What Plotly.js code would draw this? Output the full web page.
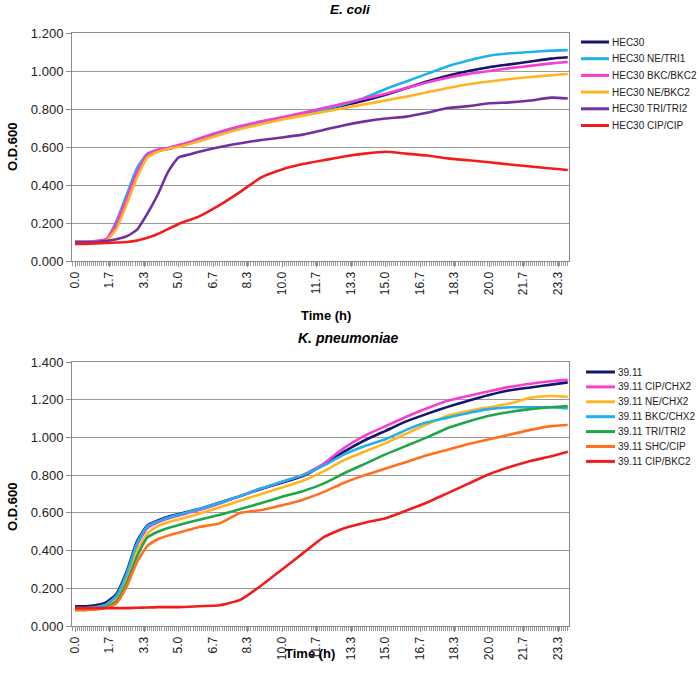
<!DOCTYPE html>
<html>
<head>
<meta charset="utf-8">
<script src="https://cdn.plot.ly/plotly-3.0.1.min.js"></script>
<style>html,body{margin:0;padding:0;background:#fff;}#chart{width:700px;height:674px;}</style>
</head>
<body>
<div id="chart"></div>
<script>
// ---- Data ----
const timeH = [0, 0.5, 1, 1.5, 2, 2.5, 3, 3.5, 4, 4.5, 5, 5.5, 6, 7, 8, 9, 10, 11, 12, 13, 14, 15, 16, 17, 18, 19, 20, 21, 22, 23, 23.8];

const ecoliNames = ['HEC30', 'HEC30 NE/TRI1', 'HEC30 BKC/BKC2', 'HEC30 NE/BKC2', 'HEC30 TRI/TRI2', 'HEC30 CIP/CIP'];
const ecoliColors = ['#15156e', '#22b0e8', '#f43fd0', '#ffb51f', '#7030a0', '#f21c1c'];
const ecoli_HEC30 = [0.100, 0.100, 0.100, 0.105, 0.190, 0.320, 0.460, 0.555, 0.580, 0.590, 0.605, 0.620, 0.635, 0.670, 0.700, 0.725, 0.750, 0.770, 0.795, 0.820, 0.845, 0.875, 0.910, 0.945, 0.975, 1.000, 1.020, 1.035, 1.050, 1.065, 1.072];
const ecoli_NE_TRI1 = [0.100, 0.100, 0.100, 0.110, 0.210, 0.350, 0.490, 0.565, 0.585, 0.595, 0.605, 0.620, 0.635, 0.670, 0.700, 0.725, 0.750, 0.772, 0.797, 0.825, 0.860, 0.905, 0.945, 0.985, 1.025, 1.055, 1.080, 1.093, 1.100, 1.107, 1.110];
const ecoli_BKC_BKC2 = [0.100, 0.100, 0.105, 0.115, 0.200, 0.330, 0.470, 0.560, 0.585, 0.595, 0.610, 0.625, 0.645, 0.680, 0.710, 0.735, 0.757, 0.780, 0.805, 0.830, 0.855, 0.880, 0.910, 0.940, 0.965, 0.985, 1.000, 1.015, 1.027, 1.040, 1.047];
const ecoli_NE_BKC2 = [0.100, 0.100, 0.100, 0.105, 0.170, 0.300, 0.440, 0.545, 0.575, 0.590, 0.600, 0.615, 0.630, 0.665, 0.695, 0.720, 0.745, 0.765, 0.785, 0.805, 0.825, 0.845, 0.865, 0.888, 0.910, 0.930, 0.945, 0.958, 0.968, 0.978, 0.984];
const ecoli_TRI_TRI2 = [0.100, 0.100, 0.100, 0.105, 0.115, 0.130, 0.165, 0.250, 0.350, 0.470, 0.545, 0.560, 0.575, 0.600, 0.620, 0.637, 0.650, 0.665, 0.690, 0.715, 0.735, 0.750, 0.760, 0.780, 0.805, 0.815, 0.830, 0.835, 0.845, 0.860, 0.855];
const ecoli_CIP_CIP = [0.090, 0.090, 0.092, 0.095, 0.097, 0.100, 0.108, 0.122, 0.142, 0.168, 0.195, 0.215, 0.235, 0.295, 0.365, 0.440, 0.482, 0.510, 0.530, 0.550, 0.565, 0.575, 0.565, 0.555, 0.540, 0.530, 0.520, 0.508, 0.497, 0.487, 0.479];

const kpNames = ['39.11', '39.11 CIP/CHX2', '39.11 NE/CHX2', '39.11 BKC/CHX2', '39.11 TRI/TRI2', '39.11 SHC/CIP', '39.11 CIP/BKC2'];
const kpColors = ['#15156e', '#f43fd0', '#ffb51f', '#22b0e8', '#1fa64a', '#ff7020', '#f21c1c'];
const kp_3911 = [0.105, 0.105, 0.110, 0.125, 0.170, 0.290, 0.450, 0.535, 0.560, 0.580, 0.593, 0.607, 0.620, 0.655, 0.690, 0.727, 0.760, 0.795, 0.855, 0.925, 0.985, 1.035, 1.085, 1.125, 1.162, 1.195, 1.225, 1.250, 1.265, 1.280, 1.292];
const kp_CIP_CHX2 = [0.090, 0.090, 0.095, 0.110, 0.155, 0.270, 0.430, 0.520, 0.550, 0.570, 0.585, 0.600, 0.615, 0.650, 0.690, 0.730, 0.765, 0.800, 0.860, 0.945, 1.010, 1.060, 1.110, 1.155, 1.195, 1.220, 1.245, 1.268, 1.285, 1.298, 1.305];
const kp_NE_CHX2 = [0.085, 0.085, 0.090, 0.100, 0.140, 0.250, 0.400, 0.490, 0.530, 0.550, 0.565, 0.580, 0.595, 0.630, 0.665, 0.700, 0.735, 0.770, 0.820, 0.880, 0.925, 0.970, 1.020, 1.070, 1.115, 1.140, 1.160, 1.180, 1.210, 1.220, 1.216];
const kp_BKC_CHX2 = [0.095, 0.095, 0.100, 0.115, 0.160, 0.280, 0.440, 0.530, 0.555, 0.575, 0.590, 0.605, 0.620, 0.655, 0.690, 0.730, 0.765, 0.800, 0.850, 0.910, 0.955, 0.990, 1.040, 1.080, 1.105, 1.130, 1.150, 1.160, 1.160, 1.160, 1.154];
const kp_TRI_TRI2 = [0.085, 0.085, 0.090, 0.100, 0.130, 0.230, 0.370, 0.470, 0.500, 0.520, 0.535, 0.550, 0.563, 0.590, 0.620, 0.652, 0.685, 0.715, 0.755, 0.810, 0.860, 0.910, 0.955, 1.000, 1.050, 1.085, 1.115, 1.135, 1.150, 1.160, 1.166];
const kp_SHC_CIP = [0.085, 0.085, 0.088, 0.095, 0.120, 0.210, 0.340, 0.425, 0.460, 0.480, 0.495, 0.510, 0.525, 0.545, 0.600, 0.615, 0.640, 0.670, 0.710, 0.760, 0.800, 0.835, 0.870, 0.905, 0.935, 0.965, 0.990, 1.015, 1.040, 1.060, 1.066];
const kp_CIP_BKC2 = [0.095, 0.095, 0.095, 0.095, 0.095, 0.095, 0.097, 0.098, 0.100, 0.100, 0.100, 0.102, 0.105, 0.110, 0.140, 0.215, 0.300, 0.385, 0.470, 0.518, 0.548, 0.572, 0.612, 0.655, 0.705, 0.755, 0.805, 0.843, 0.875, 0.900, 0.924];

const xTickLabels = ['0.0', '1.7', '3.3', '5.0', '6.7', '8.3', '10.0', '11.7', '13.3', '15.0', '16.7', '18.3', '20.0', '21.7', '23.3'];
const ecoliTitle = 'E. coli';
const kpTitle = 'K. pneumoniae';
const xTitle = 'Time (h)';
const yTitle = 'O.D.600';

// ---- Build figure ----
const W = 700, H = 674;
const px = x => x / W;
const py = y => 1 - y / H;
const FONT = 'Arial, "Liberation Sans", sans-serif';

const ecoliSeries = [ecoli_HEC30, ecoli_NE_TRI1, ecoli_BKC_BKC2, ecoli_NE_BKC2, ecoli_TRI_TRI2, ecoli_CIP_CIP];
const kpSeries = [kp_3911, kp_CIP_CHX2, kp_NE_CHX2, kp_BKC_CHX2, kp_TRI_TRI2, kp_SHC_CIP, kp_CIP_BKC2];

const traces = [];
ecoliSeries.forEach((ys, i) => traces.push({
  x: timeH, y: ys, type: 'scatter', mode: 'lines', name: ecoliNames[i],
  line: {color: ecoliColors[i], width: 2.6, shape: 'spline', smoothing: 0.5},
  xaxis: 'x', yaxis: 'y', showlegend: false
}));
kpSeries.forEach((ys, i) => traces.push({
  x: timeH, y: ys, type: 'scatter', mode: 'lines', name: kpNames[i],
  line: {color: kpColors[i], width: 2.6, shape: 'spline', smoothing: 0.5},
  xaxis: 'x2', yaxis: 'y2', showlegend: false
}));

const tickVals = xTickLabels.map((_, i) => i * 100 / 60);

function xAxis(anchor) {
  return {
    anchor: anchor, domain: [px(72), px(569)], range: [-0.145, 23.86],
    tickmode: 'array', tickvals: tickVals, ticktext: xTickLabels, tickangle: -90,
    ticks: 'outside', ticklen: 5, tickcolor: '#8c8c8c', tickwidth: 1,
    minor: {dtick: 0.1, tick0: 0, ticks: 'outside', ticklen: 4, tickcolor: '#9a9a9a', tickwidth: 1, showgrid: false},
    showgrid: false, zeroline: false, showline: true, linecolor: '#8c8c8c', linewidth: 1, mirror: true,
    tickfont: {family: FONT, size: 12, color: '#222'}, fixedrange: true
  };
}
function yAxis(anchor, domain, maxV) {
  return {
    anchor: anchor, domain: domain, range: [0, maxV], dtick: 0.2, tick0: 0, tickformat: '.3f',
    ticks: 'outside', ticklen: 5, tickcolor: '#8c8c8c',
    showgrid: true, gridcolor: '#9a9a9a', gridwidth: 1, zeroline: false,
    showline: true, linecolor: '#8c8c8c', linewidth: 1, mirror: true,
    tickfont: {family: FONT, size: 13, color: '#222'}, fixedrange: true
  };
}

const annotations = [];
const shapes = [];
function ann(text, x, y, opts) {
  annotations.push(Object.assign({text: text, x: px(x), y: py(y), xref: 'paper', yref: 'paper', showarrow: false,
    xanchor: 'center', yanchor: 'middle', font: {family: FONT, size: 13, color: '#000'}}, opts || {}));
}
ann('<b><i>' + ecoliTitle + '</i></b>', 350, 10, {font: {family: FONT, size: 13.5, color: '#000'}});
ann('<b><i>' + kpTitle + '</i></b>', 348, 338, {font: {family: FONT, size: 14, color: '#000'}});
ann('<b>' + xTitle + '</b>', 326, 315);
ann('<b>' + xTitle + '</b>', 310, 653);
ann('<b>' + yTitle + '</b>', 12, 147, {textangle: -90});
ann('<b>' + yTitle + '</b>', 12, 507, {textangle: -90});

// Legends built from names/colors
function legend(names, colors, x0, x1, y0, dy) {
  names.forEach((n, i) => {
    const y = y0 + i * dy;
    shapes.push({type: 'line', xref: 'paper', yref: 'paper', x0: px(x0), x1: px(x1), y0: py(y), y1: py(y),
      line: {color: colors[i], width: 3}});
    ann(n, x1 + 1, y, {xanchor: 'left', font: {family: FONT, size: 10, color: '#222'}});
  });
}
legend(ecoliNames, ecoliColors, 581, 609, 42, 16.7);
legend(kpNames, kpColors, 586, 615, 372, 14.9);

const layout = {
  width: W, height: H, autosize: false,
  margin: {l: 0, r: 0, t: 0, b: 0, pad: 0},
  paper_bgcolor: '#fff', plot_bgcolor: '#fff',
  showlegend: false,
  xaxis: xAxis('y'), yaxis: yAxis('x', [py(261), py(33)], 1.2),
  xaxis2: xAxis('y2'), yaxis2: yAxis('x2', [py(626), py(362)], 1.4),
  annotations: annotations, shapes: shapes,
  font: {family: FONT}
};

Plotly.newPlot('chart', traces, layout, {staticPlot: true, displayModeBar: false});
</script>
</body>
</html>
